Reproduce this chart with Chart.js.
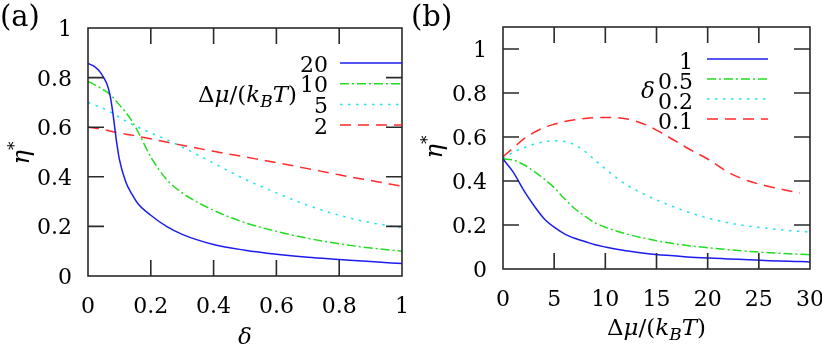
<!DOCTYPE html>
<html>
<head>
<meta charset="utf-8">
<script src="https://cdn.jsdelivr.net/npm/chart.js@4.4.1/dist/chart.umd.min.js"></script>
<style>
html, body { margin: 0; padding: 0; background: #fff; }
#wrap { position: relative; width: 822px; height: 345px; }
.panel { position: absolute; top: 0; width: 411px; height: 345px; }
#overlay { position: absolute; left: 0; top: 0; pointer-events: none; }
</style>
</head>
<body>
<div id="wrap">
  <div class="panel" style="left:0"><canvas id="chartA" width="411" height="345"></canvas></div>
  <div class="panel" style="left:411px"><canvas id="chartB" width="411" height="345"></canvas></div>
  <canvas id="overlay" width="822" height="345"></canvas>
</div>
<script>
// ---- panel (a): eta* vs delta, one curve per Delta mu/(kB T)
const deltaA = [0, 0.02, 0.04, 0.05, 0.06, 0.07, 0.08, 0.09, 0.1, 0.12, 0.14, 0.16, 0.2, 0.25, 0.3, 0.4, 0.5, 0.6, 0.7, 0.8, 0.9, 1.0];
const labelsA = ['20', '10', '5', '2'];
const etaA20 = [0.857, 0.845, 0.82, 0.80, 0.775, 0.73, 0.65, 0.55, 0.47, 0.38, 0.33, 0.29, 0.245, 0.2, 0.168, 0.127, 0.104, 0.088, 0.076, 0.067, 0.058, 0.05];
const etaA10 = [0.785, 0.772, 0.758, 0.75, 0.742, 0.732, 0.72, 0.705, 0.69, 0.66, 0.625, 0.58, 0.48, 0.39, 0.335, 0.265, 0.215, 0.18, 0.152, 0.13, 0.113, 0.1];
const etaA5 = [0.70, 0.69, 0.68, 0.675, 0.668, 0.662, 0.655, 0.647, 0.64, 0.625, 0.612, 0.60, 0.577, 0.55, 0.52, 0.455, 0.39, 0.335, 0.285, 0.245, 0.215, 0.195];
const etaA2 = [0.60, 0.597, 0.593, 0.59, 0.588, 0.585, 0.582, 0.58, 0.578, 0.572, 0.568, 0.563, 0.553, 0.54, 0.527, 0.503, 0.48, 0.457, 0.433, 0.408, 0.385, 0.362];
const ticksXA = [0, 0.2, 0.4, 0.6, 0.8, 1];
const ticksYA = [0, 0.2, 0.4, 0.6, 0.8, 1];

// ---- panel (b): eta* vs Delta mu/(kB T), one curve per delta
const muB = [0, 1, 2, 3, 4, 5, 6, 7, 8, 9, 10, 12, 14, 16, 18, 20, 22, 24, 26, 28, 29, 30];
const labelsB = ['1', '0.5', '0.2', '0.1'];
const etaB1 = [0.5, 0.44, 0.36, 0.29, 0.23, 0.19, 0.16, 0.14, 0.125, 0.11, 0.10, 0.083, 0.071, 0.062, 0.055, 0.05, 0.046, 0.042, 0.038, 0.035, 0.034, 0.032];
const etaB05 = [0.5, 0.495, 0.475, 0.445, 0.41, 0.37, 0.32, 0.275, 0.24, 0.21, 0.19, 0.16, 0.138, 0.12, 0.107, 0.097, 0.088, 0.08, 0.074, 0.069, 0.067, 0.065];
const etaB02 = [0.5, 0.53, 0.55, 0.567, 0.578, 0.583, 0.58, 0.565, 0.535, 0.495, 0.455, 0.385, 0.335, 0.295, 0.26, 0.232, 0.21, 0.195, 0.184, 0.175, 0.171, 0.168];
const etaB01 = [0.51, 0.55, 0.59, 0.62, 0.643, 0.658, 0.67, 0.678, 0.684, 0.688, 0.689, 0.683, 0.655, 0.605, 0.55, 0.5, 0.44, 0.40, 0.375, 0.355, 0.345, null];
const ticksXB = [0, 5, 10, 15, 20, 25, 30];
const ticksYB = [0, 0.2, 0.4, 0.6, 0.8, 1];

const SERIF = "'DejaVu Serif'";
const COLORS = ['#1c1cee', '#22dd22', '#22e4ee', '#ff2a2a'];
const DASHES = [[], [9, 3, 2, 3], [2.5, 5.5], [11, 7]];

function pts(xs, ys) {
    return xs.map((x, i) => ({ x: x, y: ys[i] }));
}

function makeDatasets(xs, series, labels) {
    return series.map((ys, i) => ({
        label: labels[i],
        data: pts(xs, ys),
        borderColor: COLORS[i],
        borderWidth: 1.5,
        borderDash: DASHES[i],
        pointRadius: 0,
        fill: false,
        cubicInterpolationMode: 'monotone',
        spanGaps: false
    }));
}

function fmt(v) {
    if (Math.abs(v) < 1e-9) return '0';
    if (Math.abs(v - Math.round(v)) < 1e-9) return String(Math.round(v));
    return v.toFixed(1);
}

// mixed italic / sub / superscript text on one baseline
function drawRich(ctx, parts, x, y, size, align) {
    const fontOf = p => (p.it ? 'italic ' : '') + Math.round((p.sub || p.sup) ? size * 0.72 : size) + 'px ' + SERIF;
    let w = 0;
    parts.forEach(p => { ctx.font = fontOf(p); w += ctx.measureText(p.t).width; });
    let cx = align === 'center' ? x - w / 2 : (align === 'right' ? x - w : x);
    ctx.textAlign = 'left';
    ctx.textBaseline = 'alphabetic';
    parts.forEach(p => {
        ctx.font = fontOf(p);
        const dy = p.sub ? size * 0.22 : (p.sup ? -size * 0.38 : 0);
        ctx.fillText(p.t, cx, y + dy);
        cx += ctx.measureText(p.t).width;
    });
}

const DMU = [{ t: 'Δ' }, { t: 'μ', it: true }, { t: '/(' }, { t: 'k', it: true }, { t: 'B', it: true, sub: true }, { t: 'T', it: true }, { t: ')' }];
const ETA = [{ t: 'η', it: true }, { t: '*', sup: true }];

// text and key layout for each panel
const PANEL_TEXT = {
    chartA: {
        offX: 0, letter: '(a)',
        xTitle: [{ t: 'δ', it: true }], xTitleY: 344,
        yTitleX: 29, yTitleY: 153,
        key: {
            rowY: 63, rowGap: 20.7, textDy: 8.5,
            labelRight: 328, lineX0: 340, lineX1: 402,
            title: DMU, titleX: 297, titleY: 102, titleAlign: 'right'
        }
    },
    chartB: {
        offX: 411, letter: '(b)',
        xTitle: DMU, xTitleY: 335,
        yTitleX: 31, yTitleY: 147,
        key: {
            rowY: 59, rowGap: 20, textDy: 10,
            labelRight: 282, lineX0: 296, lineX1: 357,
            title: [{ t: 'δ', it: true }], titleX: 237, titleY: 98, titleAlign: 'center'
        }
    }
};

// gnuplot-like box with inward ticks on all four sides, plus key samples
const framePlugin = {
    id: 'frame',
    afterDatasetsDraw(chart) {
        const { ctx, chartArea: a, scales } = chart;
        const L = 16;
        ctx.save();
        ctx.strokeStyle = '#2a2a2a';
        ctx.lineWidth = 1.6;
        ctx.beginPath();
        scales.x.ticks.forEach(t => {
            const px = scales.x.getPixelForValue(t.value);
            if (px < a.left + 2 || px > a.right - 2) return;
            ctx.moveTo(px, a.bottom); ctx.lineTo(px, a.bottom - L);
            ctx.moveTo(px, a.top); ctx.lineTo(px, a.top + L);
        });
        scales.y.ticks.forEach(t => {
            const py = scales.y.getPixelForValue(t.value);
            if (py < a.top + 2 || py > a.bottom - 2) return;
            ctx.moveTo(a.left, py); ctx.lineTo(a.left + L, py);
            ctx.moveTo(a.right, py); ctx.lineTo(a.right - L, py);
        });
        ctx.stroke();
        ctx.strokeRect(a.left, a.top, a.right - a.left, a.bottom - a.top);

        const k = PANEL_TEXT[chart.canvas.id].key;
        chart.data.datasets.forEach((ds, i) => {
            const yy = k.rowY + i * k.rowGap;
            ctx.strokeStyle = ds.borderColor;
            ctx.lineWidth = 1.5;
            ctx.setLineDash(ds.borderDash);
            ctx.beginPath();
            ctx.moveTo(k.lineX0, yy);
            ctx.lineTo(k.lineX1, yy);
            ctx.stroke();
        });
        ctx.restore();
    }
};

function drawPanelText(ctx, chart) {
    const o = PANEL_TEXT[chart.canvas.id];
    const a = chart.chartArea;
    const sx = chart.scales.x, sy = chart.scales.y;
    ctx.save();
    ctx.translate(o.offX, 0);
    ctx.fillStyle = '#000';
    drawRich(ctx, [{ t: o.letter }], 0, 26, 29, 'left');

    sx.ticks.forEach(t => drawRich(ctx, [{ t: fmt(t.value) }], sx.getPixelForValue(t.value), a.bottom + 37, 22, 'center'));
    sy.ticks.forEach(t => drawRich(ctx, [{ t: fmt(t.value) }], a.left - 16, sy.getPixelForValue(t.value) + 8, 22, 'right'));

    drawRich(ctx, o.xTitle, (a.left + a.right) / 2, o.xTitleY, 23, 'center');

    ctx.save();
    ctx.translate(o.yTitleX, o.yTitleY);
    ctx.rotate(-Math.PI / 2);
    drawRich(ctx, ETA, 0, 0, 24, 'center');
    ctx.restore();

    const k = o.key;
    chart.data.datasets.forEach((ds, i) => {
        drawRich(ctx, [{ t: ds.label }], k.labelRight, k.rowY + i * k.rowGap + k.textDy, 22, 'right');
    });
    drawRich(ctx, k.title, k.titleX, k.titleY, 23, k.titleAlign);
    ctx.restore();
}

function axisOpts(min, max, tickVals, size) {
    return {
        type: 'linear',
        min: min,
        max: max,
        afterBuildTicks: s => { s.ticks = tickVals.map(v => ({ value: v })); },
        grid: { display: false },
        border: { display: false },
        ticks: { display: false },
        afterFit: s => {
            if (s.isHorizontal()) s.height = size; else s.width = size;
        }
    };
}

function buildChart(id, xs, series, labels, cfg) {
    return new Chart(document.getElementById(id), {
        type: 'line',
        data: { datasets: makeDatasets(xs, series, labels) },
        options: {
            responsive: false,
            animation: false,
            layout: { padding: cfg.padding },
            plugins: {
                legend: { display: false },
                tooltip: { enabled: false }
            },
            scales: {
                x: axisOpts(cfg.xMin, cfg.xMax, cfg.xTicks, cfg.xAxisH),
                y: axisOpts(cfg.yMin, cfg.yMax, cfg.yTicks, cfg.yAxisW)
            }
        },
        plugins: [framePlugin]
    });
}

const chartA = buildChart('chartA', deltaA, [etaA20, etaA10, etaA5, etaA2], labelsA, {
    xMin: 0, xMax: 1, xTicks: ticksXA,
    yMin: 0, yMax: 1, yTicks: ticksYA,
    xAxisH: 69, yAxisW: 88,
    padding: { left: 0, top: 28, right: 9, bottom: 0 }
});

const chartB = buildChart('chartB', muB, [etaB1, etaB05, etaB02, etaB01], labelsB, {
    xMin: 0, xMax: 30, xTicks: ticksXB,
    yMin: 0, yMax: 1.1, yTicks: ticksYB,
    xAxisH: 76, yAxisW: 92,
    padding: { left: 0, top: 27, right: 12, bottom: 0 }
});

const overlayCtx = document.getElementById('overlay').getContext('2d');
drawPanelText(overlayCtx, chartA);
drawPanelText(overlayCtx, chartB);
</script>
</body>
</html>
